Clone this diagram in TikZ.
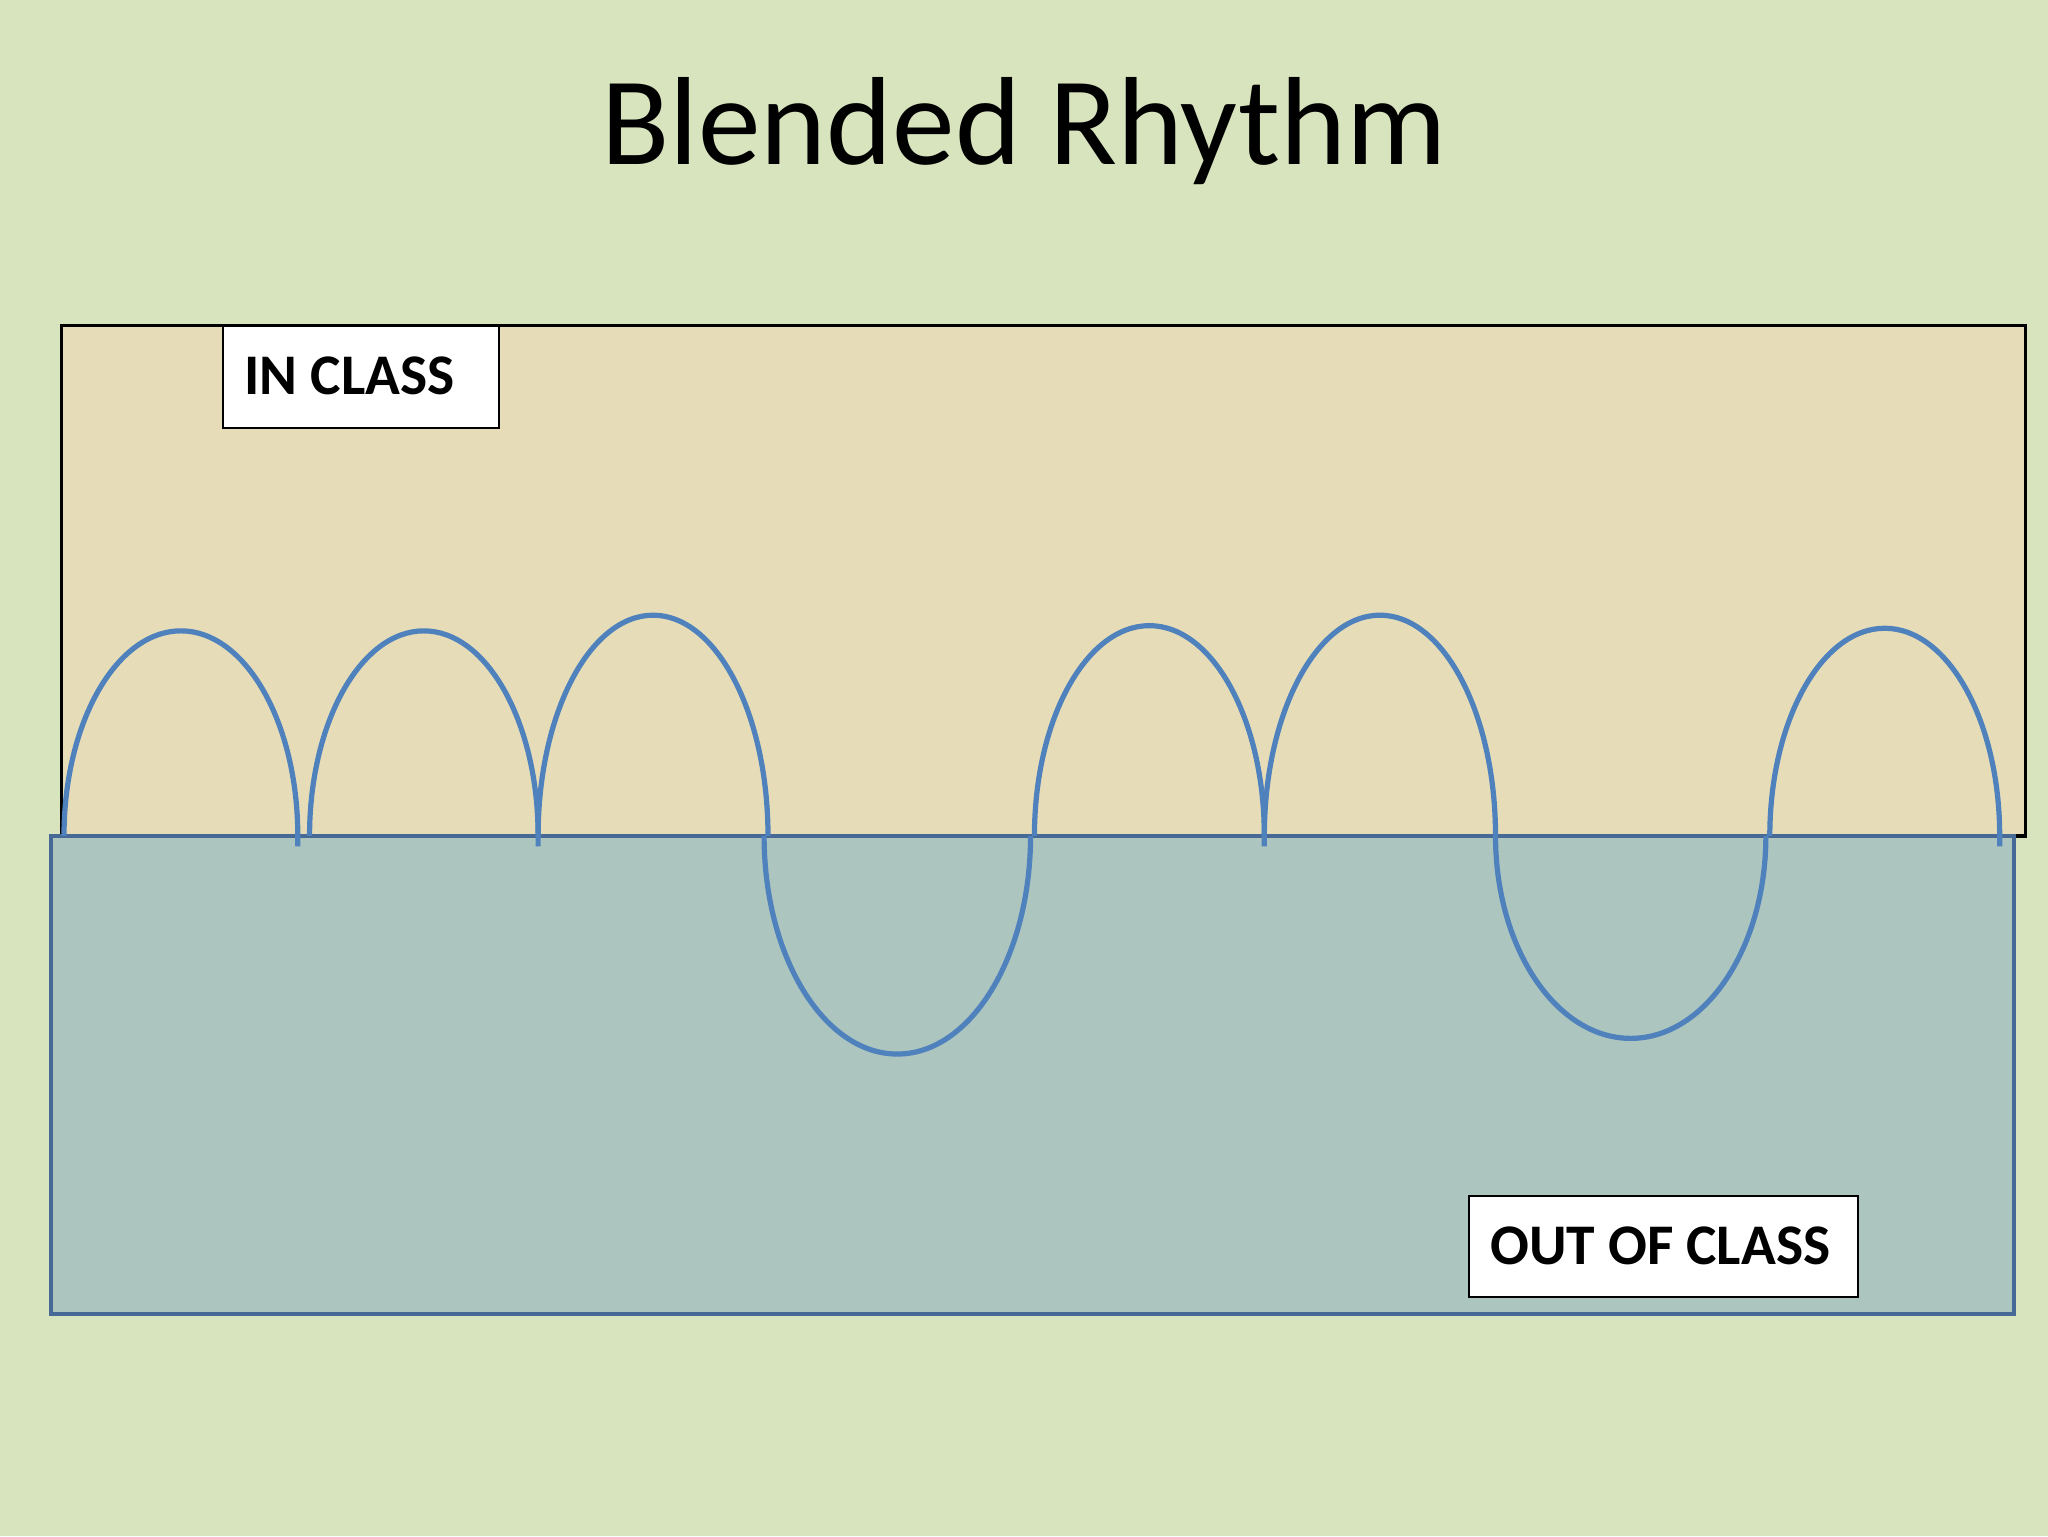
\documentclass[tikz,border=0pt]{standalone}
\usepackage{fontspec}
\setmainfont{Carlito}
\begin{document}
\begin{tikzpicture}[x=1pt,y=-1pt,
  lab/.style={draw=black,fill=white,line width=1.5pt,anchor=north west,inner sep=0pt},
  labtxt/.style={font=\fontsize{44}{48}\selectfont\bfseries,anchor=west,inner sep=0pt}]
\definecolor{bg}{RGB}{215,228,189}
\definecolor{tan}{RGB}{230,221,184}
\definecolor{teal}{RGB}{173,197,191}
\definecolor{wblue}{RGB}{79,129,189}
\fill[bg] (0,0) rectangle (1568,1176);
\useasboundingbox (0,0) rectangle (1568,1176);
\node (title) at (784,100) {\fontsize{96}{100}\selectfont Blended Rhythm};
\draw[fill=tan,line width=2.5pt] (47,249) rectangle (1551,640);
\draw[fill=teal,draw={rgb,255:red,70;green,105;blue,150},line width=2.5pt] (39,640) rectangle (1542,1006);
\node[lab,minimum width=211pt,minimum height=78pt] (in) at (170,249) {};
\node[labtxt] at (187,288) {IN CLASS};
\node[lab,minimum width=298pt,minimum height=77pt] (out) at (1124,915) {};
\node[labtxt] at (1141,954) {OUT OF CLASS};
\begin{scope}[line width=4pt]
\draw[wblue] (49,640) arc[start angle=180,end angle=0,x radius=89.5,y radius=-157] -- (228,648);
\draw[wblue] (237,640) arc[start angle=180,end angle=0,x radius=87.5,y radius=-157] -- (412,648);
\draw[wblue] (412,640) arc[start angle=180,end angle=0,x radius=88,y radius=-169];
\draw[wblue] (585,640) arc[start angle=180,end angle=360,x radius=102,y radius=-167];
\draw[wblue] (792,640) arc[start angle=180,end angle=0,x radius=88,y radius=-161] -- (968,648);
\draw[wblue] (968,640) arc[start angle=180,end angle=0,x radius=88.5,y radius=-169];
\draw[wblue] (1145,640) arc[start angle=180,end angle=360,x radius=103.5,y radius=-155];
\draw[wblue] (1355,640) arc[start angle=180,end angle=0,x radius=88,y radius=-159] -- (1531,648);
\end{scope}
\end{tikzpicture}
\end{document}
